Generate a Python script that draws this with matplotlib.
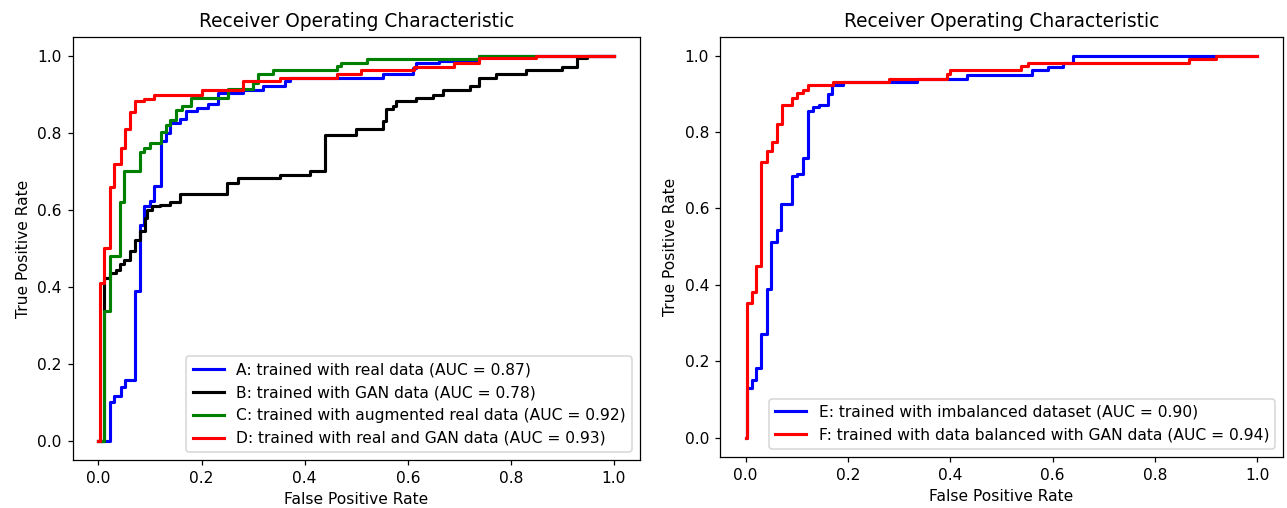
import matplotlib
matplotlib.use("Agg")
import matplotlib.pyplot as plt

# left panel: ROC step corners (fpr where tpr jumps, tpr reached)
fpr_a = [0, 0.022, 0.030, 0.043, 0.052, 0.070, 0.081, 0.088, 0.099, 0.107, 0.122, 0.130, 0.138,
         0.159, 0.170, 0.191, 0.212, 0.232, 0.281, 0.320, 0.362, 0.371, 0.552, 0.610, 0.616, 0.661,
         0.739, 1.0]
tpr_a = [0, 0.10, 0.117, 0.139, 0.159, 0.39, 0.561, 0.609, 0.622, 0.661, 0.779, 0.80, 0.826,
         0.836, 0.856, 0.864, 0.875, 0.903, 0.912, 0.921, 0.934, 0.943, 0.953, 0.970, 0.982, 0.988,
         1.0, 1.0]

fpr_b = [0, 0.010, 0.023, 0.033, 0.041, 0.049, 0.061, 0.070, 0.081, 0.090, 0.094, 0.104, 0.120,
         0.139, 0.159, 0.249, 0.271, 0.352, 0.410, 0.439, 0.500, 0.552, 0.558, 0.571, 0.578, 0.616,
         0.649, 0.668, 0.720, 0.739, 0.771, 0.829, 0.900, 0.929, 0.948, 1.0]
tpr_b = [0, 0.422, 0.435, 0.444, 0.46, 0.47, 0.494, 0.522, 0.544, 0.579, 0.60, 0.61, 0.614,
         0.621, 0.642, 0.67, 0.683, 0.692, 0.70, 0.794, 0.811, 0.831, 0.862, 0.87, 0.883, 0.89,
         0.90, 0.912, 0.921, 0.942, 0.953, 0.963, 0.972, 0.994, 1.0, 1.0]

fpr_c = [0, 0.010, 0.022, 0.041, 0.049, 0.081, 0.089, 0.100, 0.122, 0.130, 0.138, 0.151, 0.162,
         0.180, 0.252, 0.300, 0.310, 0.339, 0.462, 0.471, 0.520, 0.739, 1.0]
tpr_c = [0, 0.338, 0.48, 0.62, 0.70, 0.75, 0.762, 0.773, 0.802, 0.82, 0.833, 0.86, 0.87,
         0.89, 0.914, 0.931, 0.953, 0.964, 0.974, 0.982, 0.992, 1.0, 1.0]

fpr_d = [0, 0.002, 0.010, 0.023, 0.030, 0.043, 0.051, 0.062, 0.070, 0.089, 0.108, 0.201, 0.281,
         0.352, 0.462, 0.510, 0.613, 0.690, 0.739, 0.848, 1.0]
tpr_d = [0, 0.41, 0.50, 0.66, 0.72, 0.76, 0.81, 0.855, 0.883, 0.889, 0.90, 0.912, 0.934,
         0.943, 0.953, 0.963, 0.972, 0.983, 0.994, 1.0, 1.0]

# right panel
fpr_e = [0, 0.002, 0.012, 0.021, 0.031, 0.042, 0.050, 0.062, 0.070, 0.091, 0.101, 0.112, 0.122,
         0.132, 0.143, 0.162, 0.168, 0.191, 0.335, 0.432, 0.559, 0.591, 0.620, 0.640, 1.0]
tpr_e = [0, 0.13, 0.15, 0.182, 0.27, 0.39, 0.511, 0.543, 0.612, 0.685, 0.691, 0.732, 0.855,
         0.866, 0.87, 0.90, 0.924, 0.931, 0.940, 0.950, 0.962, 0.971, 0.981, 1.0, 1.0]

fpr_f = [0, 0.002, 0.012, 0.021, 0.031, 0.042, 0.052, 0.062, 0.072, 0.091, 0.101, 0.112, 0.122,
         0.171, 0.281, 0.393, 0.400, 0.539, 0.552, 0.867, 0.919, 1.0]
tpr_f = [0, 0.353, 0.381, 0.448, 0.721, 0.751, 0.773, 0.822, 0.870, 0.889, 0.902, 0.911, 0.922,
         0.931, 0.940, 0.952, 0.962, 0.973, 0.981, 0.992, 1.0, 1.0]

left_series = [
    (fpr_a, tpr_a, "blue", "A: trained with real data (AUC = 0.87)"),
    (fpr_b, tpr_b, "black", "B: trained with GAN data (AUC = 0.78)"),
    (fpr_c, tpr_c, "green", "C: trained with augmented real data (AUC = 0.92)"),
    (fpr_d, tpr_d, "red", "D: trained with real and GAN data (AUC = 0.93)"),
]
right_series = [
    (fpr_e, tpr_e, "blue", "E: trained with imbalanced dataset (AUC = 0.90)"),
    (fpr_f, tpr_f, "red", "F: trained with data balanced with GAN data (AUC = 0.94)"),
]

# the reference looks like a default figure saved at a higher dpi
dpi = 112
fig = plt.figure(figsize=(1287 / dpi, 508 / dpi), dpi=dpi)
ax1 = fig.add_axes([0.0565, 0.0945, 0.4406, 0.833])
ax2 = fig.add_axes([0.5594, 0.101, 0.4375, 0.827])

for ax, series in [(ax1, left_series), (ax2, right_series)]:
    for fpr, tpr, col, lab in series:
        ax.plot(fpr, tpr, color=col, lw=2, drawstyle="steps-post", label=lab)
    ax.set_title("Receiver Operating Characteristic")
    ax.set_xlabel("False Positive Rate")
    ax.set_ylabel("True Positive Rate")
    ax.legend(loc="lower right")

fig.savefig("out.png", dpi=dpi)
